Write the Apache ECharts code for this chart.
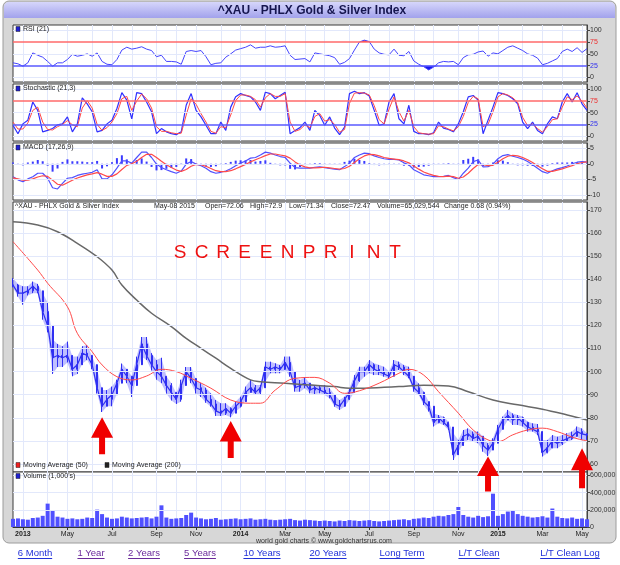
<!DOCTYPE html>
<html>
<head>
<meta charset="utf-8">
<script src="https://cdn.jsdelivr.net/npm/echarts@6/dist/echarts.min.js"></script>
<style>
  html, body { margin: 0; padding: 0; background: #fff; }
  #main { width: 620px; height: 565px; }
</style>
</head>
<body>
<div id="main"></div>
<script type="text/javascript">
// weekly samples (Fridays), 2013-02-15 .. 2015-05-08
var firstWeek = '2013-02-15';
var weekCount = 117;

var priceHigh = [140.5,138,137,137,139,138,134,130,114,112,111,113,106.5,106.5,111,111.5,106.5,101,92,92,93.5,96.5,103.5,101,98,106.5,115,115,108,105,
  106,98,95,90.5,96.5,102,102,96.5,95,93,90.6,87.7,86.3,86.3,84.5,87,89.1,93.5,96.4,94.2,94.2,104.3,104.3,103.6,102.9,106.5,106.5,97.8,96.4,97.5,
  94.9,94.2,94.2,94.2,92.8,89.9,87.7,89.1,92.8,98.5,102.1,102.1,105,103.6,102.9,102.1,100,105,104.3,102.9,102.1,97.1,94.9,91.3,87,81.9,81.2,80.5,78.3,73.3,
  70.4,74.7,75.4,74,74,71.8,69,71.1,76.9,80.5,83.4,81.9,81.2,80.5,78.3,77.6,77.3,70.4,70.4,72.5,71.8,72.5,73.3,74,76.2,75.4,73.3];
var priceLow = [136.5,132.5,129,133,134,134,122.5,117,99,102,102,104,98,99,103.5,105,101,90.5,82.5,85,85,90.5,98,95,89,98,106.5,105,100.5,96.5,
  95,90.5,87.5,86,87,98,95,90.5,89,86.5,84.8,80.8,80.8,81.2,80.2,82.7,84.5,87.7,91.3,89.9,90,95.6,99.3,99.3,99.3,100.7,97.8,91.3,91.3,92.8,
  90.6,90.3,90.6,89.9,88.4,84.8,83.4,84.8,87.7,91.3,95.6,97.8,99.3,98.5,98.5,97.8,97.1,100,100.7,98.5,97.1,91.3,89.9,85.5,82.7,76.2,77.6,76.9,74.7,61.7,
  65.3,69,70.4,69.6,69,65.3,63.4,66.8,71.8,75.4,79,76.9,76.9,76.2,74,74,72.5,63.2,64.6,66.8,66.8,68.2,69.6,70.4,71.8,70.4,70.4];
var priceClose = [137.5,134,134,135,137,135,126,120,106,107,106,107,101,103,108,107,103,93,85,88,90,95,101,98,94,103,112,107,103,100,
  98,94,91,88,94,100,97,93,92,88,86,83,82,84,82,85,87,91,93,91,93,102,101,102,101,104,100,93,94,95,
  92,93,92,91,90,86,85,88,91,96,100,100,103,101,100,99,98,103,102,100,98,93,91,87,85,78,80,78,76,64,
  68,72,73,71,72,68,66,69,75,79,81,79,80,78,76,75,74,65,67,70,69,70,71,72,74,73,72.47];

// moving averages: [week index, value]
var ma50 = [[0,156.3],[5,144],[7,138.3],[11,128.1],[13,116.6],[16,108.6],[18,102.9],[21,97.8],[24,96.4],[27,98.1],[30,101],[33,100],[36,97.1],[40,92.8],
  [44,87.7],[48,86.3],[50,86.3],[53,92],[57,97.1],[61,97.5],[64,95],[67,90.6],[70,91.7],[74,95],[78,99.3],[80,101],[83,98.5],[86,91.3],[90,82],
  [93,74.7],[96,70.4],[98,69.7],[101,72.6],[104,74.7],[107,75.5],[110,74],[113,71.6],[115,70.4],[116,70.1]];
var ma200 = [[0,164.9],[5,163.5],[9,160.6],[13,155.6],[17,149.8],[20,144],[22,137.5],[25,131],[28,125.3],[32,119.5],[35,114.4],[38,110.1],[41,105.8],
  [44,101.4],[48,96.4],[50,95.6],[55,95],[60,94.2],[65,93.5],[68,92.8],[71,92.8],[75,93.2],[78,93.5],[83,94.1],[88,93.8],[92,91.3],[97,87.7],
  [102,85.6],[107,83.7],[112,81.2],[116,79]];

var rsi = [31,29,24,31,52,47,43,34,24,31,31,38,49,45,47,50,45,52,34,28,27,38,58,64,60,62,65,60,57,44,
  47,34,34,33,28,55,57,55,57,44,27,30,31,43,50,58,61,64,69,62,64,64,67,64,65,67,47,38,39,40,
  33,52,50,48,46,42,28,32,40,58,75,79,76,60,52,49,48,60,47,46,55,35,28,23,16,22,31,34,33,34,
  27,42,48,49,54,56,45,52,50,57,64,67,62,57,50,47,41,27,30,35,40,55,60,55,63,53,61];

var stochK = [23,5,26,34,73,55,9,12,16,24,26,41,9,26,82,69,52,9,12,26,34,59,93,77,37,93,91,73,52,5,
  16,9,5,3,9,66,91,55,41,23,5,5,30,12,62,84,91,87,84,73,55,94,91,80,87,94,5,12,18,30,
  12,55,44,23,41,17,3,19,91,96,91,93,86,55,23,26,73,91,37,26,66,10,5,5,3,7,30,17,14,9,
  26,52,84,87,77,5,34,62,93,91,87,80,69,30,16,30,12,5,26,41,37,73,91,73,93,69,55];
var stochD = [30,15,15,28,55,62,30,14,13,20,25,33,24,20,60,76,60,25,12,18,30,48,80,85,55,75,90,80,60,20,
  10,10,7,5,6,45,80,68,48,30,10,6,20,18,45,76,88,88,85,78,62,82,91,85,85,91,30,10,14,24,
  18,42,48,32,35,25,8,14,70,92,93,92,88,65,35,26,58,84,52,32,55,20,7,5,4,5,22,20,15,11,
  20,42,72,85,80,20,25,52,84,91,88,82,72,40,22,26,16,8,20,35,37,62,84,78,86,75,60];

var macd = [-4.1,-5.1,-5.7,-4.8,-4.1,-3,-3,-4.6,-7.6,-8,-6.2,-4.6,-4.4,-3.7,-3.3,-3,-2.7,-1.9,-4.8,-4.8,-3.5,-1.4,0.9,0.9,0.2,2,3.7,3.7,2,-0.1,
  -1.2,-1.9,-2.5,-3,-2.3,-0.1,0.7,-0.1,-0.6,-1.4,-2.5,-3,-2.7,-2.3,-1.6,-0.6,0.2,0.9,1.8,2,2.8,3.7,3.4,2.8,2.3,2,0.2,-1.2,-1.4,-1.4,
  -1.4,-1.1,-1,-1.2,-1.5,-1.7,-1.9,-0.9,0.2,2,2.8,3.4,3.2,2.5,2,1.6,1.4,1.4,1.2,0.3,-0.3,-1.9,-2.7,-3.5,-3.8,-4.1,-4.1,-4,-3.7,-4.4,
  -5,-3,-1.4,0.7,1.2,-1,-0.9,-0.1,1.6,2.6,2.9,2.4,2,1.5,0.7,-0.3,-1.4,-2.5,-3,-2.2,-1.6,-1.2,-0.7,0,0.5,0.7,0.5];
var macdSignal = [-4.5,-4.8,-5.2,-5.2,-4.8,-4.2,-3.8,-4,-5.2,-6.5,-6.8,-6,-5.2,-4.5,-4,-3.5,-3.2,-2.8,-3.3,-4,-4,-3.2,-1.8,-0.5,0,0.8,2,3,3,2,
  0.8,-0.3,-1.2,-2,-2.4,-1.8,-0.8,-0.2,-0.3,-0.8,-1.5,-2.2,-2.5,-2.5,-2.2,-1.6,-0.9,-0.2,0.6,1.3,1.9,2.6,3.1,3.1,2.8,2.5,1.8,0.6,-0.4,-1,
  -1.3,-1.3,-1.2,-1.1,-1.3,-1.5,-1.7,-1.5,-0.8,0.4,1.6,2.5,3,2.9,2.5,2,1.7,1.5,1.3,0.9,0.3,-0.7,-1.7,-2.6,-3.2,-3.7,-4,-4.1,-3.9,-4.1,
  -4.6,-4.2,-3,-1.5,-0.2,-0.3,-0.6,-0.5,0.5,1.6,2.4,2.7,2.5,2,1.3,0.4,-0.6,-1.6,-2.4,-2.4,-2,-1.6,-1.1,-0.6,0,0.4,0.6];
var macdHist = [0.4,-0.3,-0.5,0.4,0.7,1.2,0.8,-0.6,-2.5,-1.5,0.6,1.4,0.8,0.8,0.7,0.5,0.5,0.9,-1.5,-0.8,0.5,1.8,2.7,1.4,0.2,1.2,1.7,0.7,-1,-2.1,
  -2,-1.6,-1.3,-1,0.1,1.7,1.5,0.1,-0.3,-0.6,-1,-0.8,-0.2,0.2,0.6,1,1.1,1.1,1.2,0.7,0.9,1.1,0.3,-0.3,-0.5,-0.5,-1.6,-1.8,-1,-0.4,
  -0.1,0.2,0.2,-0.1,-0.2,-0.2,-0.2,0.6,1,1.6,1.2,0.9,0.2,-0.4,-0.5,-0.4,-0.3,-0.1,-0.1,-0.6,-0.6,-1.2,-1,-0.9,-0.6,-0.4,-0.1,0.1,0.2,-0.3,
  -0.4,1.2,1.6,2.2,1.4,-0.7,-0.3,0.4,1.1,1,0.5,-0.3,-0.5,-0.5,-0.6,-0.7,-0.8,-0.9,-0.6,0.2,0.4,0.4,0.4,0.6,0.5,0.3,-0.1];

var volume = [95000,100000,90000,85000,105000,110000,130000,272000,190000,120000,110000,95000,100000,90000,95000,110000,105000,202000,150000,110000,
  95000,100000,120000,110000,100000,105000,110000,115000,100000,120000,252000,110000,95000,100000,105000,140000,167000,110000,100000,90000,
  95000,105000,85000,90000,95000,100000,90000,95000,100000,85000,90000,95000,85000,80000,85000,90000,95000,80000,75000,85000,
  80000,75000,70000,75000,70000,65000,75000,70000,80000,75000,70000,75000,80000,70000,65000,70000,75000,80000,85000,90000,
  80000,95000,100000,110000,105000,120000,130000,125000,140000,150000,233000,140000,120000,110000,130000,115000,125000,388000,130000,150000,
  180000,198000,150000,130000,120000,110000,115000,125000,110000,215000,120000,105000,100000,110000,95000,100000,90000];

// axis ticks
var tickDates = ['2013-03-01','2013-05-03','2013-07-05','2013-09-06','2013-11-01','2014-01-03','2014-03-07',
  '2014-05-02','2014-07-04','2014-09-05','2014-11-07','2015-01-02','2015-03-06','2015-05-01'];
var tickLabels = ['2013','May','Jul','Sep','Nov','2014','Mar','May','Jul','Sep','Nov','2015','Mar','May'];
var oscTicks = [0, 25, 50, 75, 100];
var macdTicks = [-10, -5, 0, 5];
var priceTicks = [60, 70, 80, 90, 100, 110, 120, 130, 140, 150, 160, 170];
var volTicks = [0, 200000, 400000, 600000];

// arrows under the marked lows: [week index, price at tip, length]
var arrowMarks = [[18, 80.2, 37], [44, 78.6, 37], [96, 63.2, 35], [115, 66.8, 40]];

var links = ['6 Month','1 Year','2 Years','5 Years','10 Years','20 Years','Long Term','L/T Clean','L/T Clean Log'];
var linkX = [35, 91, 144, 200, 262, 328, 402, 479, 570];
var linkVisited = [false, true, true, true, false, false, false, false, false];

var FONT = '"Liberation Sans", Arial, sans-serif';
var BLUE = '#2f2ff2';
var RED = '#ff4a4a';

// build the week categories
var weeks = [];
var t0 = Date.parse(firstWeek + 'T00:00:00Z');
for (var i = 0; i < weekCount; i++) {
    weeks.push(new Date(t0 + i * 7 * 86400000).toISOString().slice(0, 10));
}

var candles = [];
var rangeData = [];
for (var i = 0; i < weekCount; i++) {
    var open = i === 0 ? priceClose[0] : priceClose[i - 1];
    candles.push([open, priceClose[i], priceLow[i], priceHigh[i]]);
    rangeData.push([i, priceHigh[i], priceLow[i]]);
}

// parts of the RSI beyond the 75 / 25 bands, for the shaded patches
var rsiHot = rsi.map(function (v, k) {
    var near = rsi[k] >= 75 || (k > 0 && rsi[k - 1] >= 75) || (k < rsi.length - 1 && rsi[k + 1] >= 75);
    return near ? Math.max(v, 75) : null;
});
var rsiCold = rsi.map(function (v, k) {
    var near = rsi[k] <= 25 || (k > 0 && rsi[k - 1] <= 25) || (k < rsi.length - 1 && rsi[k + 1] <= 25);
    return near ? Math.min(v, 25) : null;
});

function isMonthStart(idx, val) { return parseInt(val.slice(8), 10) <= 7; }
function isLabelWeek(idx, val) { return tickDates.indexOf(val) >= 0; }

var gridDefs = [
    {top: 25, height: 57},
    {top: 84, height: 57},
    {top: 143, height: 57},
    {top: 202, height: 270},
    {top: 472, height: 55}
];
var grids = gridDefs.map(function (g) {
    return {left: 13, right: 33, top: g.top, height: g.height, show: true,
            backgroundColor: '#fff', borderColor: '#3a3a3a', borderWidth: 1, containLabel: false};
});

var xAxes = gridDefs.map(function (g, k) {
    var last = k === gridDefs.length - 1;
    return {
        type: 'category', gridIndex: k, data: weeks, boundaryGap: false,
        axisLine: {show: last, lineStyle: {color: '#333'}},
        axisTick: {show: last, interval: isLabelWeek, length: 3, lineStyle: {color: '#333'}},
        axisLabel: {
            show: last, interval: isLabelWeek, margin: 4, fontSize: 7, fontFamily: FONT, color: '#222',
            formatter: function (v) {
                var n = tickDates.indexOf(v);
                if (n < 0) return '';
                var s = tickLabels[n];
                return /^\d{4}$/.test(s) ? '{y|' + s + '}' : s;
            },
            rich: {y: {fontWeight: 'bold', fontSize: 7, fontFamily: FONT, color: '#222'}}
        },
        splitLine: {show: true, interval: isMonthStart, lineStyle: {color: '#e2e8fb', width: 1}}
    };
});

function oscColor(v) {
    v = Number(v);
    if (v === 75) return '#ee3030';
    if (v === 25) return '#3030ee';
    return '#333';
}
function yAxisFor(k, min, max, ticks, color) {
    return {
        type: 'value', gridIndex: k, min: min, max: max, position: 'right',
        axisLine: {show: true, lineStyle: {color: '#444'}},
        axisTick: {show: true, customValues: ticks, length: 3, lineStyle: {color: '#444'}},
        axisLabel: {customValues: ticks, fontSize: 7, fontFamily: FONT, margin: 3, color: color || '#333'},
        splitLine: {show: false}
    };
}
var yAxes = [
    yAxisFor(0, -9.5, 111, oscTicks, oscColor),
    yAxisFor(1, -10.7, 111.6, oscTicks, oscColor),
    yAxisFor(2, -11.5, 6.6, macdTicks),
    yAxisFor(3, 56.5, 173.5, priceTicks),
    yAxisFor(4, 0, 640000, volTicks)
];

function gridLines(vals, extra) {
    return {
        silent: true, symbol: 'none', animation: false, label: {show: false},
        lineStyle: {color: '#e2e8fb', width: 1, type: 'solid'},
        data: vals.map(function (v) { return {yAxis: v}; }).concat(extra || [])
    };
}
var oscLines = [
    {yAxis: 75, lineStyle: {color: '#ff6a6a', width: 1.5, type: 'solid'}},
    {yAxis: 25, lineStyle: {color: '#5a5aff', width: 1.5, type: 'solid'}}
];

function lineSeries(k, data, color, width, extra) {
    var s = {type: 'line', xAxisIndex: k, yAxisIndex: k, data: data, symbol: 'none',
             lineStyle: {color: color, width: width}, itemStyle: {color: color}, silent: true};
    for (var key in extra) s[key] = extra[key];
    return s;
}

// soft band joining each week's high/low range to the next one
function renderRange(params, api) {
    var i = api.value(0);
    if (i >= weekCount - 1) return null;
    var a = api.coord([i, priceHigh[i]]);
    var b = api.coord([i + 1, priceHigh[i + 1]]);
    var c = api.coord([i + 1, priceLow[i + 1]]);
    var d = api.coord([i, priceLow[i]]);
    return {type: 'polygon', shape: {points: [a, b, c, d]},
            style: {fill: '#8a8aff', opacity: 0.55}};
}

var arrowPath = 'path://M11,0 L22,21 L14,21 L14,38 L8,38 L8,21 L0,21 Z';

var series = [
    lineSeries(0, rsiHot, '#ff2020', 0, {connectNulls: false, areaStyle: {origin: 75, color: '#ff2020', opacity: 1}}),
    lineSeries(0, rsiCold, '#1515ee', 0, {connectNulls: false, areaStyle: {origin: 25, color: '#1515ee', opacity: 1}}),
    lineSeries(0, rsi, '#4545ff', 1, {markLine: gridLines([0, 50, 100], oscLines)}),
    lineSeries(1, stochK, '#3030ff', 1.2, {markLine: gridLines([0, 50, 100], oscLines)}),
    lineSeries(1, stochD, RED, 1),
    {type: 'bar', xAxisIndex: 2, yAxisIndex: 2, data: macdHist, barWidth: 2, silent: true,
     itemStyle: {color: '#3a3aff'}, markLine: gridLines([-10, -5, 0, 5])},
    lineSeries(2, macd, '#5050ff', 1.2),
    lineSeries(2, macdSignal, RED, 1.2),
    {type: 'custom', xAxisIndex: 3, yAxisIndex: 3, data: rangeData, renderItem: renderRange, silent: true,
     encode: {x: 0, y: [1, 2]}, markLine: gridLines(priceTicks)},
    {type: 'candlestick', xAxisIndex: 3, yAxisIndex: 3, data: candles, barWidth: 1.5, silent: true,
     itemStyle: {color: BLUE, color0: BLUE, borderColor: BLUE, borderColor0: BLUE, borderWidth: 1}},
    lineSeries(3, priceClose, BLUE, 1.2),
    lineSeries(3, ma200, '#686868', 1.5, {smooth: 0.4}),
    lineSeries(3, ma50, RED, 1, {smooth: 0.4}),
    {type: 'bar', xAxisIndex: 4, yAxisIndex: 4, data: volume, barWidth: 4, silent: true,
     itemStyle: {color: '#5050ff'}, markLine: gridLines(volTicks.slice(1))},
    {type: 'scatter', xAxisIndex: 3, yAxisIndex: 3, data: [], silent: true, z: 10,
     markPoint: {
         silent: true, symbol: arrowPath, symbolKeepAspect: false, label: {show: false},
         itemStyle: {color: '#f00000'},
         data: arrowMarks.map(function (a) {
             return {coord: [weeks[a[0]], a[1]], symbolSize: [22, a[2]], symbolOffset: [0, a[2] / 2]};
         })
     }}
];

// frame, titles, legends, links
var measure = document.createElement('canvas').getContext('2d');
function txt(text, x, y, size, opts) {
    opts = opts || {};
    return {type: 'text', z: 50, silent: true, style: {
        text: text, x: x, y: y, fontSize: size, fontFamily: FONT, fontWeight: opts.weight || 'normal',
        fill: opts.fill || '#222', align: opts.align || 'left', verticalAlign: 'middle'}};
}
function swatch(x, y, color) {
    return {type: 'rect', z: 50, silent: true, shape: {x: x, y: y, width: 4, height: 5},
            style: {fill: color, stroke: '#222', lineWidth: 0.5}};
}

var graphics = [
    {type: 'rect', z: -100, silent: true, shape: {x: 3, y: 1, width: 613, height: 542, r: 6},
     style: {fill: '#d7d7d7', stroke: '#9c9c9c', lineWidth: 1}},
    {type: 'rect', z: -90, silent: true, shape: {x: 4, y: 2, width: 611, height: 16, r: [5, 5, 0, 0]},
     style: {fill: new echarts.graphic.LinearGradient(0, 0, 0, 1, [
         {offset: 0, color: '#d6d6fb'}, {offset: 1, color: '#a2a2ec'}])}},
    txt('^XAU - PHLX Gold & Silver Index', 312, 11, 12, {weight: 'bold', fill: '#16164f', align: 'center'}),
    swatch(16, 26.5, '#2020d0'), txt('RSI (21)', 23, 29, 7),
    swatch(16, 86, '#2020d0'), txt('Stochastic (21,3)', 23, 88.5, 7),
    swatch(16, 145, '#2020d0'), txt('MACD (17,26,9)', 23, 147.5, 7),
    txt('^XAU - PHLX Gold & Silver Index', 15, 206, 7),
    txt('May-08 2015', 154, 206, 7), txt('Open=72.06', 205, 206, 7), txt('High=72.9', 250, 206, 7),
    txt('Low=71.34', 289, 206, 7), txt('Close=72.47', 331, 206, 7), txt('Volume=65,029,544', 377, 206, 7),
    txt('Change 0.68 (0.94%)', 444, 206, 7),
    swatch(16, 462.5, '#ee2020'), txt('Moving Average (50)', 23, 465, 7),
    swatch(105, 462.5, '#222'), txt('Moving Average (200)', 112, 465, 7),
    swatch(16, 473.5, '#2020d0'), txt("Volume (1,000's)", 23, 476, 7),
    txt('world gold charts \u00a9 www.goldchartsrus.com', 324, 541, 7, {align: 'center', fill: '#333'})
];

var word = 'SCREENPRINT';
for (var i = 0; i < word.length; i++) {
    graphics.push(txt(word[i], 180 + i * 21.5, 253, 19, {fill: '#ee1111', align: 'center'}));
}

measure.font = '9.5px ' + FONT;
links.forEach(function (s, k) {
    var c = linkVisited[k] ? '#6a2a9a' : '#2230d8';
    var w = measure.measureText(s).width;
    graphics.push(txt(s, linkX[k], 553, 9.5, {fill: c, align: 'center'}));
    graphics.push({type: 'line', z: 50, silent: true,
        shape: {x1: linkX[k] - w / 2, y1: 558.5, x2: linkX[k] + w / 2, y2: 558.5},
        style: {stroke: c, lineWidth: 1}});
});

var chart = echarts.init(document.getElementById('main'));
chart.setOption({
    animation: false,
    backgroundColor: '#fff',
    grid: grids,
    xAxis: xAxes,
    yAxis: yAxes,
    series: series,
    graphic: graphics
});
</script>
</body>
</html>
